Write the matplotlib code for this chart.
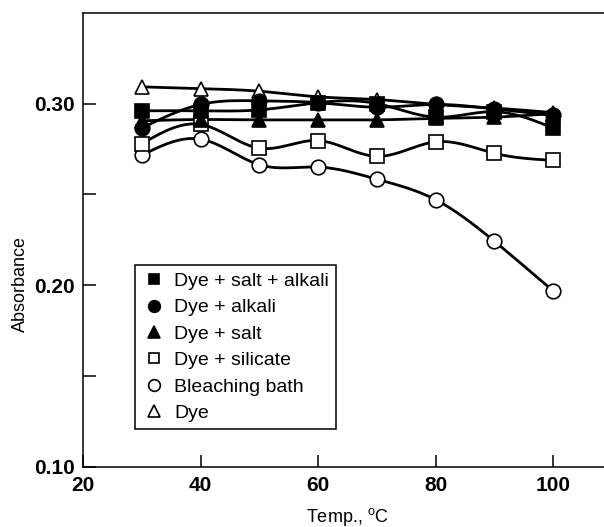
import numpy as np
import matplotlib
matplotlib.use('Agg')
from matplotlib import pyplot as plt

plt.rcParams['font.family'] = ['Liberation Sans', 'DejaVu Sans']
plt.rcParams['mathtext.fontset'] = 'custom'
plt.rcParams['mathtext.rm'] = 'Liberation Sans'

temps = [30, 40, 50, 60, 70, 80, 90, 100]

dye_salt_alkali = [0.2960, 0.2960, 0.2965, 0.3005, 0.3000, 0.2925, 0.2955, 0.2865]
dye_alkali      = [0.2865, 0.2995, 0.3015, 0.3005, 0.2980, 0.2995, 0.2970, 0.2935]
dye_salt        = [0.2905, 0.2912, 0.2910, 0.2910, 0.2910, 0.2918, 0.2925, 0.2945]
dye_silicate    = [0.2778, 0.2885, 0.2754, 0.2796, 0.2709, 0.2789, 0.2726, 0.2687]
bleaching_bath  = [0.2715, 0.2804, 0.2663, 0.2650, 0.2583, 0.2470, 0.2241, 0.1967]
dye_only        = [0.3092, 0.3082, 0.3068, 0.3037, 0.3022, 0.2995, 0.2975, 0.2950]

labels = ['Dye + salt + alkali', 'Dye + alkali', 'Dye + salt',
          'Dye + silicate', 'Bleaching bath', 'Dye']


def smooth(x, y, n=300):
    # natural cubic spline through the measured points
    x = np.asarray(x, float)
    y = np.asarray(y, float)
    k = len(x)
    h = np.diff(x)
    A = np.zeros((k, k))
    r = np.zeros(k)
    A[0, 0] = A[-1, -1] = 1
    for i in range(1, k - 1):
        A[i, i - 1] = h[i - 1]
        A[i, i] = 2 * (h[i - 1] + h[i])
        A[i, i + 1] = h[i]
        r[i] = 6 * ((y[i + 1] - y[i]) / h[i] - (y[i] - y[i - 1]) / h[i - 1])
    m = np.linalg.solve(A, r)
    xs = np.linspace(x[0], x[-1], n)
    j = np.clip(np.searchsorted(x, xs) - 1, 0, k - 2)
    t0 = xs - x[j]
    t1 = x[j + 1] - xs
    hj = h[j]
    ys = (m[j] * t1**3 / (6 * hj) + m[j + 1] * t0**3 / (6 * hj)
          + (y[j] / hj - m[j] * hj / 6) * t1
          + (y[j + 1] / hj - m[j + 1] * hj / 6) * t0)
    return xs, ys


fig = plt.figure(figsize=(6.04, 5.27), dpi=100)
ax = fig.add_axes([0.1374, 0.1148, 0.8758, 0.8609])

series = [
    (dye_only, '^', 'white', 10.5),
    (bleaching_bath, 'o', 'white', 10.5),
    (dye_silicate, 's', 'white', 9.8),
    (dye_salt, '^', 'black', 10.5),
    (dye_alkali, 'o', 'black', 10.5),
    (dye_salt_alkali, 's', 'black', 9.8),
]
names = [labels[5], labels[4], labels[3], labels[2], labels[1], labels[0]]

handles = {}
for (vals, mk, face, ms), name in zip(series, names):
    xs, ys = smooth(temps, vals)
    ax.plot(xs, ys, color='black', lw=2.0, zorder=2, solid_capstyle='round')
for (vals, mk, face, ms), name in zip(series, names):
    h, = ax.plot(temps, vals, linestyle='none', marker=mk, markersize=ms,
                 markerfacecolor=face, markeredgecolor='black',
                 markeredgewidth=1.2, label=name, zorder=3)
    handles[name] = h

ax.set_xlim(20, 110)
ax.set_ylim(0.10, 0.35)
ax.set_xticks([20, 40, 60, 80, 100])
ax.set_yticks([0.10, 0.20, 0.30])
ax.set_yticklabels(['0.10', '0.20', '0.30'])
ax.set_yticks([0.15, 0.25], minor=True)

ax.tick_params(which='both', direction='in', length=9, width=1.1)
ax.tick_params(axis='x', labelsize=15, pad=7)
ax.tick_params(axis='y', labelsize=15, pad=6)
for lab in ax.get_xticklabels() + ax.get_yticklabels():
    lab.set_fontweight('bold')

for side in ['left', 'bottom', 'top']:
    ax.spines[side].set_linewidth(1.1)
ax.spines['right'].set_visible(False)

ax.set_ylabel('Absorbance', fontsize=13)
ax.yaxis.set_label_coords(-0.118, 0.402)
ax.yaxis.label.set_verticalalignment('center')
ax.set_xlabel('Temp., $^{\\mathrm{o}}$C', fontsize=13)
ax.xaxis.set_label_coords(0.5, -0.112)
ax.xaxis.label.set_verticalalignment('center')

leg = ax.legend([handles[n] for n in labels], labels,
                loc='upper left', bbox_to_anchor=(0.098, 0.444),
                borderaxespad=0, fontsize=14, markerscale=0.8,
                handlelength=1.23, handletextpad=0.4, labelspacing=0.45,
                borderpad=0.38, fancybox=False, framealpha=1,
                edgecolor='black')
leg.get_frame().set_linewidth(1.1)

fig.savefig('out.png', dpi=100)
